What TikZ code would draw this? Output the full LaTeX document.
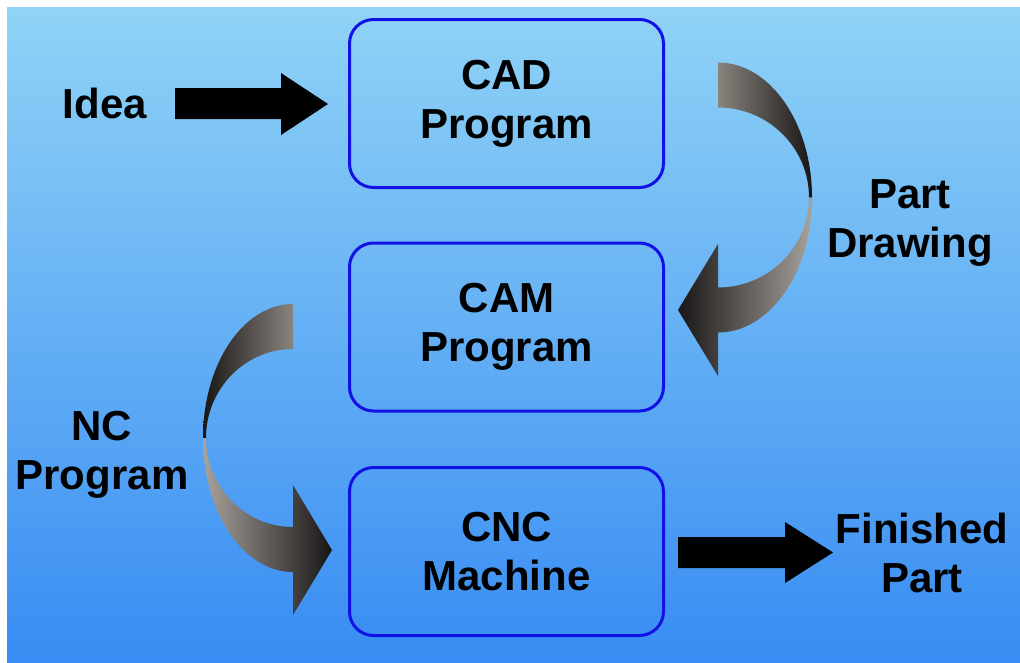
\documentclass[tikz,border=0pt]{standalone}
\usepackage{fontspec}
\setmainfont{Liberation Sans}
\definecolor{bgtop}{RGB}{144,211,246}
\definecolor{bgbottom}{RGB}{56,140,243}
\definecolor{boxblue}{RGB}{18,18,230}
\definecolor{ribbonlight}{RGB}{168,162,156}
\definecolor{ribbonmid}{RGB}{138,132,126}
\definecolor{ribbondark}{RGB}{24,22,22}
\begin{document}
\begin{tikzpicture}[x=1pt,y=-1pt,
  every node/.style={font=\bfseries\fontsize{42pt}{49pt}\selectfont, text=black, inner sep=0pt},
  stage/.style={draw=boxblue, line width=3pt, rounded corners=24pt,
    minimum width=314pt, minimum height=168pt, align=center},
  note/.style={align=center, anchor=base},
  blockarrow/.style={fill=black}]

% backdrop: white margin at top and left, blue gradient panel
\fill[white] (0,0) rectangle (1020,662);
\shade[top color=bgtop, bottom color=bgbottom] (7,7) rectangle (1020,662);

% process stages
\node[stage] (cad) at (506.5,103.5) {CAD\\Program};
\node[stage] (cam) at (506.5,327) {CAM\\Program};
\node[stage] (cnc) at (506.5,551.5) {CNC\\Machine};

% side labels (base anchor sits on the last line)
\node[note] (idea) at (105,118) {Idea};
\node[note] (drawing) at (910,257) {Part\\Drawing};
\node[note] (nc) at (102,489) {NC\\Program};
\node[note] (done) at (922,592) {Finished\\Part};

% straight block arrows
\fill[blockarrow] (175,88) -- (281,88) -- (281,73) -- (328,104) -- (281,135)
  -- (281,119) -- (175,119) -- cycle;
\fill[blockarrow] (678,537) -- (785,537) -- (785,522) -- (833,552.5) -- (785,583)
  -- (785,568) -- (678,568) -- cycle;

% curved ribbon arrow from CAD to CAM (right side)
\shade[left color=ribbonmid, right color=ribbondark]
  (718,62.5) arc[start angle=90, end angle=0, x radius=94pt, y radius=135pt]
  -- (809,197.5) arc[start angle=0, end angle=90, x radius=91pt, y radius=90pt] -- cycle;
\shade[left color=ribbondark, right color=ribbonlight]
  (812,197.5) arc[start angle=0, end angle=-90, x radius=94pt, y radius=135pt]
  -- (718,376) -- (678,310) -- (718,244) -- (718,287.5)
  arc[start angle=-90, end angle=0, x radius=91pt, y radius=90pt] -- cycle;

% curved ribbon arrow from CAM to CNC (left side)
\shade[left color=ribbondark, right color=ribbonmid]
  (293,304) arc[start angle=90, end angle=180, x radius=90pt, y radius=134pt]
  -- (206,438) arc[start angle=180, end angle=90, x radius=87pt, y radius=89pt] -- cycle;
\shade[left color=ribbonlight, right color=ribbondark]
  (203,438) arc[start angle=180, end angle=270, x radius=90pt, y radius=134pt]
  -- (293,615) -- (332,550) -- (293,485) -- (293,527)
  arc[start angle=270, end angle=180, x radius=87pt, y radius=89pt] -- cycle;
\end{tikzpicture}
\end{document}
